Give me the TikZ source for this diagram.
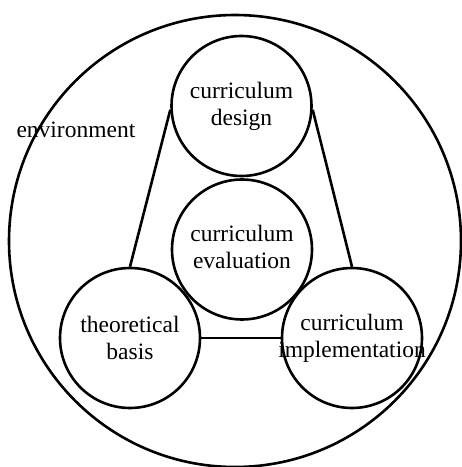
\documentclass[tikz,border=0pt]{standalone}
\usepackage{fontspec}
\setmainfont{Liberation Serif}
\tikzset{
  bubble/.style={circle,draw,line width=2.6pt,minimum size=140pt,inner sep=0pt},
  txt/.style={align=center,font=\fontsize{23.5}{27}\selectfont}
}
\begin{document}
\begin{tikzpicture}[x=1pt,y=1pt]
      \useasboundingbox (0,0) rectangle (462,467);
      \draw[line width=2.6pt] (235,226) circle (226);
      \node[txt,anchor=base west] (envtext) at (13,329) {environment};
      \draw
        (241.5,361) node[bubble] (design){}
        (242,217.5) node[bubble] (eval){}
        (130,129) node[bubble] (basis){}
        (352,129) node[bubble] (impl){};
      \node[txt] at (design) {curriculum\\design};
      \node[txt] at ([yshift=3pt]eval) {curriculum\\evaluation};
      \node[txt] at (basis) {theoretical\\basis};
      \node[txt] at (impl) {curriculum\\implementation};
      \begin{scope}[-,line width=2.6pt]
        \draw (design.183) to (basis.north);
        \draw (design.357) to (impl.north);
        \draw (basis.east) to (impl.west);
      \end{scope}
    \end{tikzpicture}
\end{document}
